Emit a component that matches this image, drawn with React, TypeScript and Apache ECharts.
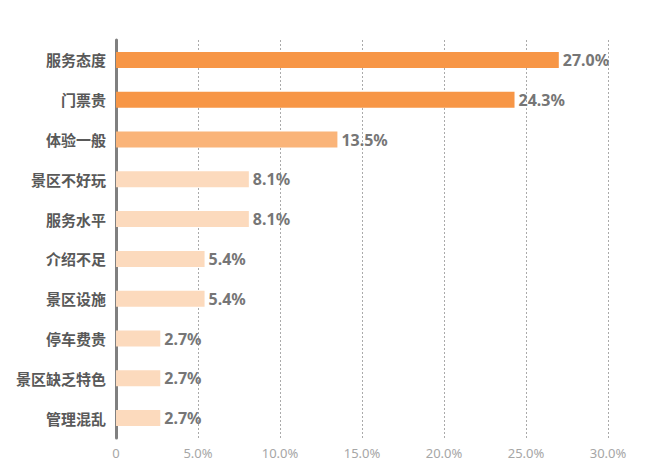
import React, { useEffect, useRef } from "react";
import * as echarts from "echarts";

const categories = ["服务态度", "门票贵", "体验一般", "景区不好玩", "服务水平", "介绍不足", "景区设施", "停车费贵", "景区缺乏特色", "管理混乱"];
const values = [27.0, 24.3, 13.5, 8.1, 8.1, 5.4, 5.4, 2.7, 2.7, 2.7];
const barColors = ["#F79646", "#F79646", "#FAB479", "#FCDABD", "#FCDABD", "#FCDABD", "#FCDABD", "#FCDABD", "#FCDABD", "#FCDABD"];

export default function App() {
  const ref = useRef<HTMLDivElement>(null);
  useEffect(() => {
    if (!ref.current) return;
    const chart = echarts.init(ref.current, null, { renderer: "svg" });
    chart.setOption({
      animation: false,
      backgroundColor: "#ffffff",
      grid: { left: 116, right: 42, top: 40, bottom: 30, containLabel: false },
      xAxis: {
        type: "value",
        min: 0,
        max: 30,
        interval: 5,
        axisLine: { show: false },
        axisTick: { show: false },
        splitLine: { show: true, lineStyle: { color: "#aaaaaa", type: [2, 2], width: 1 } },
        axisLabel: {
          color: "#a6a6a6",
          fontSize: 13,
          fontFamily: "Noto Sans",
          margin: 8,
          formatter: (v: number) => (v === 0 ? "0" : v.toFixed(1) + "%"),
        },
      },
      yAxis: {
        type: "category",
        data: categories,
        inverse: true,
        axisLine: { show: true, lineStyle: { color: "#808080", width: 3 } },
        axisTick: { show: false },
        splitLine: { show: false },
        axisLabel: {
          color: "#595959",
          fontSize: 15,
          fontWeight: "bold",
          fontFamily: "Noto Sans CJK SC",
          margin: 10,
        },
      },
      series: [
        {
          type: "bar",
          barWidth: 16,
          data: values.map((v, i) => ({ value: v, itemStyle: { color: barColors[i] } })),
          label: {
            show: true,
            position: "right",
            distance: 4,
            color: "#767676",
            fontSize: 16,
            fontWeight: "bold",
            fontFamily: "Noto Sans",
            formatter: (p: any) => Number(p.value).toFixed(1) + "%",
          },
        },
      ],
    });
    return () => chart.dispose();
  }, []);
  return <div ref={ref} style={{ position: "fixed", left: 0, top: 0, width: 650, height: 468 }} />;
}
